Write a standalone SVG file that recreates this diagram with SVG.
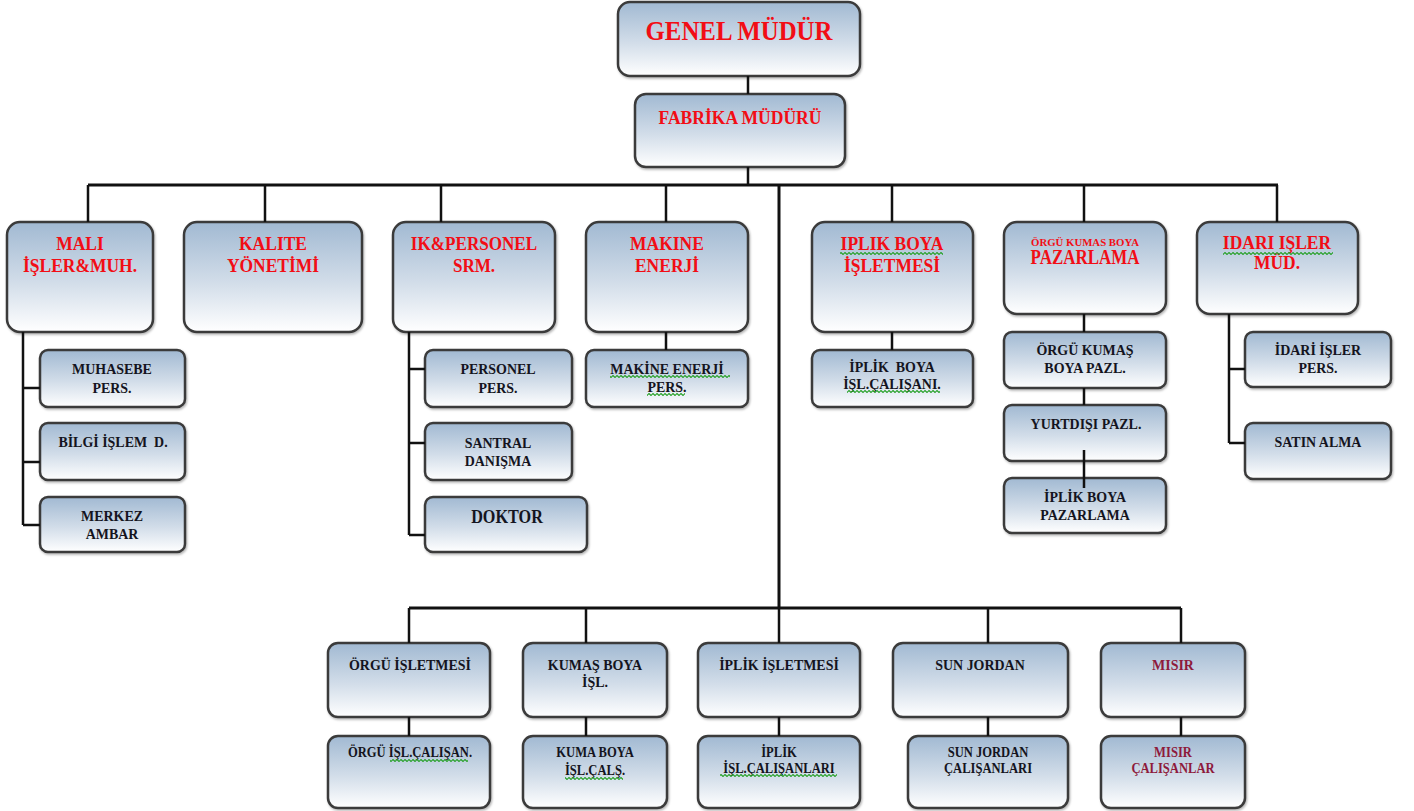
<svg xmlns="http://www.w3.org/2000/svg" width="1414" height="811" viewBox="0 0 1414 811">
  <defs>
    <linearGradient id="boxFill" x1="0" y1="0" x2="0" y2="1">
      <stop offset="0" stop-color="#a1b9d2"/>
      <stop offset="0.55" stop-color="#d2dde9"/>
      <stop offset="1" stop-color="#ffffff"/>
    </linearGradient>
    <filter id="soft" x="-5%" y="-5%" width="110%" height="115%">
      <feDropShadow dx="1" dy="1.5" stdDeviation="1.2" flood-color="#000" flood-opacity="0.3"/>
    </filter>
    <pattern id="squiggle" width="4" height="3" patternUnits="userSpaceOnUse">
      <path d="M0 1.5 L1 0.5 L3 2.5 L4 1.5" fill="none" stroke="#22a022" stroke-width="1.1"/>
    </pattern>
  </defs>
  <style>
    .box { fill: url(#boxFill); stroke: #3a3a3a; stroke-width: 2.5; filter: url(#soft); }
    .lbl { font-family: "Liberation Serif", "Times New Roman", serif; font-weight: bold; text-anchor: middle; }
    .red { fill: #f20d15; }
    .dark { fill: #141420; }
    .maroon { fill: #8e1a3c; }
    .wire { fill: none; stroke: #111; stroke-width: 2.5; }
    .bus { fill: none; stroke: #111; stroke-width: 3; }
    .spell { fill: url(#squiggle); }
  </style>

  <rect width="1414" height="811" fill="#ffffff"/>

  <!-- top management -->
  <g id="genel-mudur">
    <rect class="box" x="618" y="2" width="242" height="74" rx="12"/>
    <g transform="translate(739 0) scale(0.92 1)"><text class="lbl red" x="0" y="40" font-size="27">GENEL MÜDÜR</text></g>
  </g>
  <g id="fabrika-muduru">
    <rect class="box" x="635" y="94" width="210" height="73" rx="11"/>
    <g transform="translate(740 0) scale(0.9 1)"><text class="lbl red" x="0" y="124" font-size="19.5">FABRİKA MÜDÜRÜ</text></g>
  </g>

  <!-- department row -->
  <g id="mali-isler">
    <rect class="box" x="7" y="222" width="146" height="110" rx="13"/>
    <g transform="translate(80 0) scale(0.92 1)" class="lbl red" font-size="19">
      <text x="0" y="250">MALI</text>
      <text x="0" y="272">İŞLER&amp;MUH.</text>
    </g>
  </g>
  <g id="kalite">
    <rect class="box" x="184" y="222" width="178" height="110" rx="13"/>
    <g transform="translate(273 0) scale(0.92 1)" class="lbl red" font-size="19">
      <text x="0" y="250">KALITE</text>
      <text x="0" y="272">YÖNETİMİ</text>
    </g>
  </g>
  <g id="ik-personel">
    <rect class="box" x="393" y="222" width="162" height="110" rx="13"/>
    <g transform="translate(474 0) scale(0.9 1)" class="lbl red" font-size="19">
      <text x="0" y="250">IK&amp;PERSONEL</text>
      <text x="0" y="272">SRM.</text>
    </g>
  </g>
  <g id="makine-enerji">
    <rect class="box" x="586" y="222" width="162" height="110" rx="13"/>
    <g transform="translate(667 0) scale(0.92 1)" class="lbl red" font-size="19">
      <text x="0" y="250">MAKINE</text>
      <text x="0" y="272">ENERJİ</text>
    </g>
  </g>
  <g id="iplik-boya">
    <rect class="box" x="812" y="222" width="161" height="110" rx="13"/>
    <g transform="translate(892 0) scale(0.92 1)" class="lbl red" font-size="19">
      <text x="0" y="250">IPLIK BOYA</text>
      <text x="0" y="272">İŞLETMESİ</text>
    </g>
    <rect class="spell" x="840" y="252" width="103" height="3"/>
  </g>
  <g id="orgu-pazarlama">
    <rect class="box" x="1004" y="222" width="162" height="92" rx="13"/>
    <g transform="translate(1085 0) scale(0.9 1)" class="lbl red">
      <text x="0" y="246" font-size="10" textLength="120" lengthAdjust="spacingAndGlyphs">ÖRGÜ KUMAS BOYA</text>
      <text x="0" y="264" font-size="20" textLength="121" lengthAdjust="spacingAndGlyphs">PAZARLAMA</text>
    </g>
  </g>
  <g id="idari-isler">
    <rect class="box" x="1197" y="222" width="161" height="92" rx="13"/>
    <g transform="translate(1277 0) scale(0.92 1)" class="lbl red" font-size="19">
      <text x="0" y="249">IDARI IŞLER</text>
      <text x="0" y="269">MÜD.</text>
    </g>
    <rect class="spell" x="1223" y="252" width="110" height="3"/>
  </g>

  <!-- mali isler staff -->
  <g id="muhasebe">
    <rect class="box" x="40" y="350" width="145" height="57" rx="8"/>
    <g transform="translate(112 0) scale(0.9 1)" class="lbl dark" font-size="15.5">
      <text x="0" y="374">MUHASEBE</text>
      <text x="0" y="393">PERS.</text>
    </g>
  </g>
  <g id="bilgi-islem">
    <rect class="box" x="40" y="423" width="145" height="57" rx="8"/>
    <g transform="translate(113 0) scale(0.9 1)" class="lbl dark" font-size="15.5">
      <text x="0" y="447" xml:space="preserve">BİLGİ İŞLEM  D.</text>
    </g>
  </g>
  <g id="merkez-ambar">
    <rect class="box" x="40" y="497" width="145" height="55" rx="8"/>
    <g transform="translate(112 0) scale(0.9 1)" class="lbl dark" font-size="15.5">
      <text x="0" y="521">MERKEZ</text>
      <text x="0" y="539">AMBAR</text>
    </g>
  </g>

  <!-- ik staff -->
  <g id="personel-pers">
    <rect class="box" x="425" y="350" width="147" height="57" rx="8"/>
    <g transform="translate(498 0) scale(0.9 1)" class="lbl dark" font-size="15.5">
      <text x="0" y="374">PERSONEL</text>
      <text x="0" y="393">PERS.</text>
    </g>
  </g>
  <g id="santral">
    <rect class="box" x="425" y="423" width="147" height="57" rx="8"/>
    <g transform="translate(498 0) scale(0.9 1)" class="lbl dark" font-size="15.5">
      <text x="0" y="448">SANTRAL</text>
      <text x="0" y="466">DANIŞMA</text>
    </g>
  </g>
  <g id="doktor">
    <rect class="box" x="425" y="497" width="162" height="55" rx="8"/>
    <g transform="translate(507 0) scale(0.9 1)" class="lbl dark" font-size="18">
      <text x="0" y="523">DOKTOR</text>
    </g>
  </g>

  <!-- makine enerji staff -->
  <g id="makine-enerji-pers">
    <rect class="box" x="586" y="350" width="162" height="57" rx="8"/>
    <g transform="translate(667 0) scale(0.9 1)" class="lbl dark" font-size="15.5">
      <text x="0" y="374">MAKİNE ENERJİ</text>
      <text x="0" y="392">PERS.</text>
    </g>
    <rect class="spell" x="610" y="375" width="120" height="3"/>
    <rect class="spell" x="647" y="393" width="38" height="3"/>
  </g>

  <!-- iplik boya staff -->
  <g id="iplik-boya-calisani">
    <rect class="box" x="812" y="350" width="161" height="57" rx="8"/>
    <g transform="translate(892 0) scale(0.9 1)" class="lbl dark" font-size="15.5">
      <text x="0" y="372" xml:space="preserve">İPLİK  BOYA</text>
      <text x="0" y="389">İŞL.ÇALIŞANI.</text>
    </g>
    <rect class="spell" x="847" y="390" width="93" height="3"/>
  </g>

  <!-- pazarlama chain -->
  <g id="orgu-kumas-pazl">
    <rect class="box" x="1004" y="332" width="162" height="56" rx="8"/>
    <g transform="translate(1085 0) scale(0.9 1)" class="lbl dark" font-size="15.5">
      <text x="0" y="355">ÖRGÜ KUMAŞ</text>
      <text x="0" y="373">BOYA PAZL.</text>
    </g>
  </g>
  <g id="yurtdisi-pazl">
    <rect class="box" x="1004" y="405" width="162" height="56" rx="8"/>
    <g transform="translate(1086 0) scale(0.9 1)" class="lbl dark" font-size="15.5">
      <text x="0" y="429">YURTDIŞI PAZL.</text>
    </g>
  </g>
  <g id="iplik-boya-pazarlama">
    <rect class="box" x="1004" y="478" width="162" height="55" rx="8"/>
    <g transform="translate(1085 0) scale(0.9 1)" class="lbl dark" font-size="15.5">
      <text x="0" y="502">İPLİK BOYA</text>
      <text x="0" y="520">PAZARLAMA</text>
    </g>
  </g>

  <!-- idari isler staff -->
  <g id="idari-isler-pers">
    <rect class="box" x="1245" y="332" width="146" height="55" rx="8"/>
    <g transform="translate(1318 0) scale(0.9 1)" class="lbl dark" font-size="15.5">
      <text x="0" y="355">İDARİ İŞLER</text>
      <text x="0" y="373">PERS.</text>
    </g>
  </g>
  <g id="satin-alma">
    <rect class="box" x="1245" y="423" width="146" height="56" rx="8"/>
    <g transform="translate(1318 0) scale(0.9 1)" class="lbl dark" font-size="15.5">
      <text x="0" y="447">SATIN ALMA</text>
    </g>
  </g>

  <!-- production units -->
  <g id="orgu-isletmesi">
    <rect class="box" x="328" y="643" width="162" height="74" rx="10"/>
    <g transform="translate(410 0) scale(0.9 1)" class="lbl dark" font-size="15.5">
      <text x="0" y="670">ÖRGÜ İŞLETMESİ</text>
    </g>
  </g>
  <g id="kumas-boya-isl">
    <rect class="box" x="523" y="643" width="144" height="74" rx="10"/>
    <g transform="translate(595 0) scale(0.9 1)" class="lbl dark" font-size="15.5">
      <text x="0" y="670">KUMAŞ BOYA</text>
      <text x="0" y="687">İŞL.</text>
    </g>
  </g>
  <g id="iplik-isletmesi">
    <rect class="box" x="698" y="643" width="162" height="74" rx="10"/>
    <g transform="translate(779 0) scale(0.9 1)" class="lbl dark" font-size="15.5">
      <text x="0" y="670">İPLİK İŞLETMESİ</text>
    </g>
  </g>
  <g id="sun-jordan">
    <rect class="box" x="893" y="643" width="175" height="74" rx="10"/>
    <g transform="translate(980 0) scale(0.9 1)" class="lbl dark" font-size="15.5">
      <text x="0" y="670">SUN JORDAN</text>
    </g>
  </g>
  <g id="misir">
    <rect class="box" x="1101" y="643" width="144" height="74" rx="10"/>
    <g transform="translate(1173 0) scale(0.9 1)" class="lbl maroon" font-size="15.5">
      <text x="0" y="670">MISIR</text>
    </g>
  </g>

  <!-- production staff -->
  <g id="orgu-isl-calisan">
    <rect class="box" x="328" y="736" width="162" height="72" rx="10"/>
    <g transform="translate(410 0) scale(0.9 1)" class="lbl dark" font-size="14">
      <text x="0" y="757">ÖRGÜ İŞL.ÇALIŞAN.</text>
    </g>
    <rect class="spell" x="390" y="759" width="78" height="3"/>
  </g>
  <g id="kuma-boya-cals">
    <rect class="box" x="523" y="736" width="144" height="72" rx="10"/>
    <g transform="translate(595 0) scale(0.9 1)" class="lbl dark" font-size="14">
      <text x="0" y="757">KUMA BOYA</text>
      <text x="0" y="775">İŞL.ÇALŞ.</text>
    </g>
    <rect class="spell" x="565" y="777" width="58" height="3"/>
  </g>
  <g id="iplik-isl-calisanlari">
    <rect class="box" x="698" y="736" width="162" height="72" rx="10"/>
    <g transform="translate(779 0) scale(0.9 1)" class="lbl dark" font-size="14">
      <text x="0" y="757">İPLİK</text>
      <text x="0" y="773">İŞL.ÇALIŞANLARI</text>
    </g>
    <rect class="spell" x="720" y="774" width="117" height="3"/>
  </g>
  <g id="sun-jordan-calisanlari">
    <rect class="box" x="908" y="736" width="160" height="72" rx="10"/>
    <g transform="translate(988 0) scale(0.9 1)" class="lbl dark" font-size="14">
      <text x="0" y="757">SUN JORDAN</text>
      <text x="0" y="773">ÇALIŞANLARI</text>
    </g>
  </g>
  <g id="misir-calisanlar">
    <rect class="box" x="1101" y="736" width="144" height="72" rx="10"/>
    <g transform="translate(1173 0) scale(0.9 1)" class="lbl maroon" font-size="14">
      <text x="0" y="757">MISIR</text>
      <text x="0" y="773">ÇALIŞANLAR</text>
    </g>
  </g>

  <!-- reporting lines -->
  <g id="connectors">
    <path class="wire" d="M748 76 V94 M748 167 V185"/>
    <path class="bus" d="M88 185 H1278"/>
    <path class="wire" d="M88 185 V222 M265 185 V222 M441 185 V222 M666 185 V222 M892 185 V222 M1084 185 V222 M1277 185 V222"/>
    <path class="bus" d="M779 185 V608"/>
    <path class="bus" d="M409 608 H1181"/>
    <path class="wire" d="M409 608 V643 M586 608 V643 M779 608 V643 M988 608 V643 M1181 608 V643"/>
    <path class="wire" d="M409 717 V736 M586 717 V736 M779 717 V736 M988 717 V736 M1181 717 V736"/>
    <path class="wire" d="M23 332 V525 M23 388 H40 M23 462 H40 M23 525 H40"/>
    <path class="wire" d="M409 332 V535 M409 369 H425 M409 443 H425 M409 535 H425"/>
    <path class="wire" d="M666 332 V350 M892 332 V350"/>
    <path class="wire" d="M1084 314 V332 M1084 388 V405 M1084 450 V488"/>
    <path class="wire" d="M1229 314 V443 M1229 369 H1245 M1229 443 H1245"/>
  </g>
</svg>
